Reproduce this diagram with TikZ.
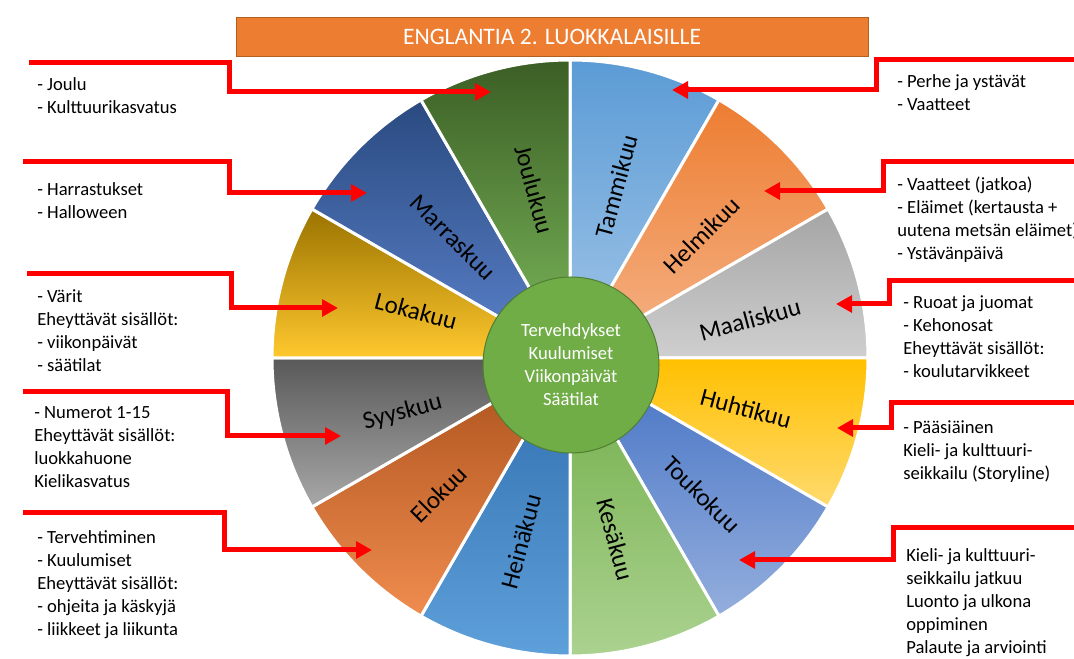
\documentclass[tikz,border=0pt]{standalone}
\usepackage{fontspec}
\setmainfont{Carlito}
\usetikzlibrary{positioning,arrows.meta}

\definecolor{titleorange}{HTML}{ED7D31}
\definecolor{titleedge}{HTML}{B0601F}
\definecolor{hubgreen}{HTML}{70AD47}
\definecolor{hubedge}{HTML}{507E32}
% month colours, A = top, B = bottom of the gradient
\definecolor{tamA}{HTML}{5B9BD5}\definecolor{tamB}{HTML}{A2C6E8}
\definecolor{helA}{HTML}{ED7D31}\definecolor{helB}{HTML}{F5B489}
\definecolor{maaA}{HTML}{A5A5A5}\definecolor{maaB}{HTML}{CFCFCF}
\definecolor{huhA}{HTML}{FFC000}\definecolor{huhB}{HTML}{FFDA6E}
\definecolor{touA}{HTML}{4472C4}\definecolor{touB}{HTML}{94AEDD}
\definecolor{kesA}{HTML}{70AD47}\definecolor{kesB}{HTML}{ABD290}
\definecolor{heiA}{HTML}{2E6DAD}\definecolor{heiB}{HTML}{5EA0DA}
\definecolor{eloA}{HTML}{A9501A}\definecolor{eloB}{HTML}{F08C4F}
\definecolor{syyA}{HTML}{595959}\definecolor{syyB}{HTML}{A8A8A8}
\definecolor{lokA}{HTML}{9A7300}\definecolor{lokB}{HTML}{FFC82E}
\definecolor{marA}{HTML}{2A4A80}\definecolor{marB}{HTML}{5B82CB}
\definecolor{jouA}{HTML}{3B5E25}\definecolor{jouB}{HTML}{7DBA5C}

\begin{document}
\begin{tikzpicture}[x=0.75pt, y=0.75pt,
        every node/.style = {inner sep=0pt, font=\fontsize{13.95}{17.25}\selectfont},
        listtext/.style = {anchor=north west, align=left},
        month/.style = {font=\fontsize{18.75}{22}\selectfont},
        pointer/.style = {draw=red, line width=3.75pt,
        -{Triangle[length=12pt, width=12.5pt]}},
        slice/.style = {draw=white, line width=2.25pt}]
    \useasboundingbox (0,0) rectangle (1074,659);

    % title
    \node[draw=titleedge, fill=titleorange, line width=0.75pt,
        minimum width=474pt, minimum height=29.5pt, text=white,
        font=\fontsize{17.7}{20}\selectfont] (title) at (552,622) {ENGLANTIA 2. LUOKKALAISILLE};

    % wheel
    \coordinate (wheel) at (570,301);
    \begin{scope}[shift={(wheel)}]
        \foreach \a/\col in {60/tam, 30/hel, 0/maa, -30/huh, -60/tou, -90/kes,
                -120/hei, -150/elo, 180/syy, 150/lok, 120/mar, 90/jou}
            \path[slice, top color=\col A, bottom color=\col B]
                (0,0) -- (\a:298) arc[start angle=\a, end angle=\a+30, radius=298] -- cycle;
        \foreach \n/\t/\a/\r/\rot in {tam/Tammikuu/75/178/75, hel/Helmikuu/43/180/45,
                maa/Maaliskuu/12/184/15, huh/Huhtikuu/-16/183/-15,
                tou/Toukokuu/-46/190/-45, kes/Kesäkuu/-76/187/-75,
                hei/Heinäkuu/-105/190/75, elo/Elokuu/-134/189/45,
                syy/Syyskuu/-162/176/15, lok/Lokakuu/163/161/-15,
                mar/Marraskuu/134/168/-45, jou/Joulukuu/102/172/-75}
            \node[month, rotate=\rot] (\n) at (\a:\r) {\t};
    \end{scope}
    \node[circle, fill=hubgreen, draw=hubedge, line width=0.75pt, minimum size=132pt,
        align=center, text=white] (hub) at (571,294)
        {Tervehdykset\\Kuulumiset\\Viikonpäivät\\Säätilat};

    % left texts
    \node[listtext] (joulu) at (37,582) {- Joulu\\- Kulttuurikasvatus};
    \node[listtext] (harrastukset) at (37,477) {- Harrastukset\\- Halloween};
    \node[listtext] (varit) at (37,370)
        {- Värit\\Eheyttävät sisällöt:\\- viikonpäivät\\- säätilat};
    \node[listtext] (numerot) at (34,253)
        {- Numerot 1-15\\Eheyttävät sisällöt:\\luokkahuone\\Kielikasvatus};
    \node[listtext] (tervehtiminen) at (37,129)
        {- Tervehtiminen\\- Kuulumiset\\Eheyttävät sisällöt:\\- ohjeita ja käskyjä\\- liikkeet ja liikunta};

    % right texts
    \node[listtext] (perhe) at (897,585) {- Perhe ja ystävät\\- Vaatteet};
    \node[listtext] (vaatteet) at (897,482)
        {- Vaatteet (jatkoa)\\- Eläimet (kertausta +\\uutena metsän eläimet)\\- Ystävänpäivä};
    \node[listtext] (ruoat) at (903,364)
        {- Ruoat ja juomat\\- Kehonosat\\Eheyttävät sisällöt:\\- koulutarvikkeet};
    \node[listtext] (paasiainen) at (903,239)
        {- Pääsiäinen\\Kieli- ja kulttuuri-\\seikkailu (Storyline)};
    \node[listtext] (seikkailu) at (906,111)
        {Kieli- ja kulttuuri-\\seikkailu jatkuu\\Luonto ja ulkona\\oppiminen\\Palaute ja arviointi};

    % arrows
    \foreach \n/\sx/\sy/\bx/\tx/\ty in {a/29/596/229/491/567, b/23/497/229/367/466,
            c/27/385/231/338/351, d/23/267/227/341/223, e/23/146/224/372/109,
            f/1074/599/876/672/569, g/1074/497/883/764/468, h/1074/378/889/836/355,
            i/1074/256/891/837/231, j/1074/131/893/739/99} {
        \coordinate (\n from) at (\sx,\sy);
        \coordinate (\n to) at (\tx,\ty);
        \draw[pointer] (\n from) -| (\bx,\ty) -- (\n to);
    }
\end{tikzpicture}
\end{document}
